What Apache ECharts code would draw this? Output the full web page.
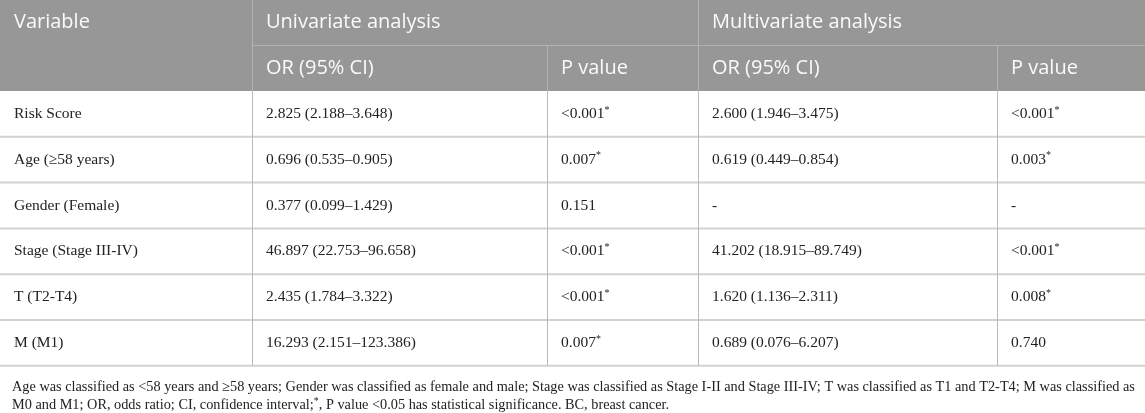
<!DOCTYPE html>
<html>
<head>
<meta charset="utf-8">
<script src="https://cdn.jsdelivr.net/npm/echarts@6/dist/echarts.min.js"></script>
<style>
html, body { margin: 0; padding: 0; background: #fff; }
#table { width: 1145px; height: 413px; }
</style>
</head>
<body>
<div id="table"></div>
<script>
// 表头
var headTop = ['Variable', 'Univariate analysis', 'Multivariate analysis'];
var headSub = ['OR (95% CI)', 'P value', 'OR (95% CI)', 'P value'];
// 表格内容 (* 为显著性标记)
var variables = ['Risk Score', 'Age (≥58 years)', 'Gender (Female)', 'Stage (Stage III-IV)', 'T (T2-T4)', 'M (M1)'];
var uniOR = ['2.825 (2.188–3.648)', '0.696 (0.535–0.905)', '0.377 (0.099–1.429)', '46.897 (22.753–96.658)', '2.435 (1.784–3.322)', '16.293 (2.151–123.386)'];
var uniP = ['<0.001*', '0.007*', '0.151', '<0.001*', '<0.001*', '0.007*'];
var multiOR = ['2.600 (1.946–3.475)', '0.619 (0.449–0.854)', '-', '41.202 (18.915–89.749)', '1.620 (1.136–2.311)', '0.689 (0.076–6.207)'];
var multiP = ['<0.001*', '0.003*', '-', '<0.001*', '0.008*', '0.740'];
var notes = [
    'Age was classified as <58 years and ≥58 years; Gender was classified as female and male; Stage was classified as Stage I-II and Stage III-IV; T was classified as T1 and T2-T4; M was classified as',
    'M0 and M1; OR, odds ratio; CI, confidence interval;*, P value <0.05 has statistical significance. BC, breast cancer.'
];

var chart = echarts.init(document.getElementById('table'));

//列边界和行高
var W = 1145;
var colX = [0, 252, 547, 698, 997, W];
var headH = 45.5;
var rowH = 45.8;
var bodyTop = headH * 2;
var pad = 14;

var headFont = '"Open Sans", sans-serif';
var bodyFont = '"Liberation Serif", "DejaVu Serif", serif';

var els = [];

//把 * 变成上标
function richText(s) {
    return s.replace(/\*/g, '{s|*}');
}
var richStyle = {
    s: { fontSize: 10, fontFamily: bodyFont, fill: '#222', verticalAlign: 'top', lineHeight: 9 }
};

function cellText(x, y, s) {
    els.push({
        type: 'text',
        x: x, y: y,
        style: {
            text: richText(s),
            fontSize: 15.5,
            fontFamily: bodyFont,
            fill: '#222',
            verticalAlign: 'middle',
            lineHeight: 18,
            rich: richStyle
        }
    });
}
function headText(x, y, s) {
    els.push({
        type: 'text',
        x: x, y: y,
        style: { text: s, fontSize: 20, fontFamily: headFont, fill: '#fafafa', verticalAlign: 'middle' }
    });
}
function line(x1, y1, x2, y2, color, w) {
    els.push({
        type: 'line',
        shape: { x1: x1, y1: y1, x2: x2, y2: y2 },
        style: { stroke: color, lineWidth: w }
    });
}

//表头背景
els.push({ type: 'rect', shape: { x: 0, y: 0, width: W, height: bodyTop }, style: { fill: '#979797' } });
line(colX[1], headH, W, headH, '#b3b3b3', 1);
line(colX[1] + 0.5, 0, colX[1] + 0.5, bodyTop, '#b3b3b3', 1);
line(colX[3] + 0.5, 0, colX[3] + 0.5, bodyTop, '#b3b3b3', 1);
line(colX[2] + 0.5, headH, colX[2] + 0.5, bodyTop, '#b3b3b3', 1);
line(colX[4] + 0.5, headH, colX[4] + 0.5, bodyTop, '#b3b3b3', 1);

headText(colX[0] + pad, headH / 2, headTop[0]);
headText(colX[1] + pad, headH / 2, headTop[1]);
headText(colX[3] + pad, headH / 2, headTop[2]);
for (var j = 0; j < headSub.length; j++) {
    headText(colX[j + 1] + pad, headH * 1.5, headSub[j]);
}

//表体
var cols = [variables, uniOR, uniP, multiOR, multiP];
var n = variables.length;
for (var i = 0; i < n; i++) {
    var yc = bodyTop + rowH * (i + 0.5);
    for (var c = 0; c < cols.length; c++) {
        cellText(colX[c] + pad, yc, cols[c][i]);
    }
    line(0, bodyTop + rowH * (i + 1), W, bodyTop + rowH * (i + 1), '#d2d2d2', 2);
}
var bodyBottom = bodyTop + rowH * n;
for (var c = 1; c < colX.length - 1; c++) {
    line(colX[c] + 0.5, bodyTop, colX[c] + 0.5, bodyBottom, '#b9b9b9', 1);
}

//注释
for (var k = 0; k < notes.length; k++) {
    els.push({
        type: 'text',
        x: 12, y: bodyBottom + 21.5 + k * 17.5,
        style: {
            text: richText(notes[k]),
            fontSize: 14.3,
            fontFamily: bodyFont,
            fill: '#222',
            verticalAlign: 'middle',
            lineHeight: 17,
            rich: richStyle
        }
    });
}

var option = {
    backgroundColor: '#ffffff',
    animation: false,
    graphic: { elements: els }
};
chart.setOption(option);
window.addEventListener('resize', function () {
    chart.resize();
});
</script>
</body>
</html>
